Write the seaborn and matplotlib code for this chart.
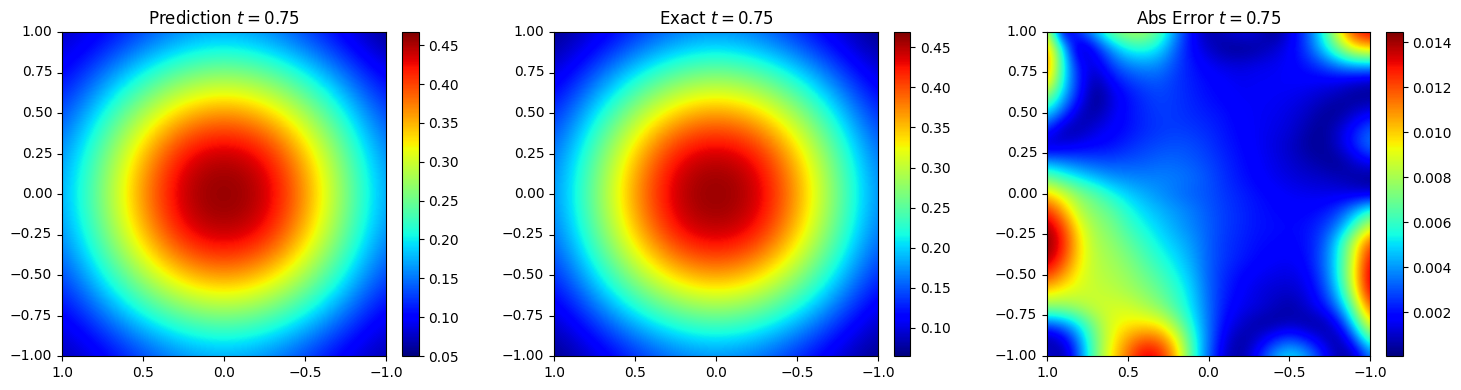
#!/usr/bin/python3

import numpy as np
import matplotlib
matplotlib.use("Agg")
import matplotlib.pyplot as plt
import seaborn as sns

# rows run from y = 1 down to y = -1, columns from x = 1 across to x = -1
prediction = [
    [.072, .092, .125, .154, .165, .154, .124, .088, .050],
    [.094, .146, .203, .246, .263, .246, .202, .144, .090],
    [.127, .204, .284, .348, .372, .348, .284, .202, .125],
    [.155, .247, .348, .430, .452, .430, .348, .246, .153],
    [.166, .264, .372, .452, .467, .452, .372, .263, .164],
    [.155, .247, .348, .430, .452, .430, .348, .246, .153],
    [.126, .203, .284, .348, .372, .348, .284, .202, .125],
    [.092, .145, .203, .246, .263, .246, .202, .144, .090],
    [.066, .090, .125, .154, .165, .154, .124, .088, .064],
]
exact = [
    [.065, .093, .126, .155, .166, .155, .126, .093, .065],
    [.093, .146, .204, .247, .264, .247, .204, .146, .093],
    [.126, .204, .285, .349, .373, .349, .285, .204, .126],
    [.155, .247, .349, .431, .453, .431, .349, .247, .155],
    [.166, .264, .373, .453, .469, .453, .373, .264, .166],
    [.155, .247, .349, .431, .453, .431, .349, .247, .155],
    [.126, .204, .285, .349, .373, .349, .285, .204, .126],
    [.093, .146, .204, .247, .264, .247, .204, .146, .093],
    [.065, .093, .126, .155, .166, .155, .126, .093, .065],
]
# in units of 1e-3
abs_error = [
    [9.0, 0.7, 2.8, 4.6, 7.0, 8.0, 8.0, 6.5, 3.8, 1.8, 0.5, 1.0, 1.4, 1.2, 0.2, 1.2, 2.8, 5.2, 9.0, 12.5, 13.5],
    [11.0, 5.0, 0.4, 2.0, 4.0, 5.5, 5.8, 5.0, 3.2, 1.8, 1.0, 0.4, 0.3, 0.5, 1.0, 1.6, 2.6, 4.6, 7.0, 9.5, 10.0],
    [11.5, 5.5, 1.8, 1.2, 2.8, 3.7, 4.0, 3.8, 2.8, 2.1, 1.6, 1.3, 1.2, 1.4, 1.5, 1.7, 2.1, 2.8, 3.8, 4.5, 4.6],
    [10.5, 5.3, 2.2, 0.5, 1.8, 2.6, 3.0, 3.1, 2.6, 2.2, 1.9, 1.7, 1.5, 1.6, 1.6, 1.7, 1.7, 1.6, 1.5, 1.2, 0.9],
    [7.5, 4.5, 2.0, 0.05, 1.2, 2.0, 2.5, 2.8, 2.6, 2.3, 2.0, 1.8, 1.6, 1.6, 1.6, 1.5, 1.3, 1.0, 0.7, 0.3, 0.3],
    [5.0, 3.0, 0.8, 0.5, 1.4, 2.0, 2.4, 2.7, 2.6, 2.4, 2.2, 2.0, 1.7, 1.6, 1.5, 1.3, 1.0, 0.5, 0.3, 1.0, 1.6],
    [2.5, 0.6, 0.6, 1.3, 1.7, 2.0, 2.4, 2.6, 2.7, 2.6, 2.4, 2.1, 1.8, 1.6, 1.4, 1.2, 0.7, 0.3, 1.0, 2.1, 3.2],
    [0.8, 1.2, 1.6, 1.8, 2.0, 2.4, 2.7, 2.9, 3.0, 2.9, 2.6, 2.2, 1.9, 1.6, 1.3, 1.0, 0.5, 0.3, 1.0, 2.3, 3.6],
    [4.0, 3.6, 3.2, 3.0, 2.9, 3.0, 3.1, 3.3, 3.3, 3.1, 2.8, 2.4, 2.0, 1.7, 1.4, 1.1, 0.8, 0.5, 0.3, 1.0, 1.8],
    [7.0, 6.0, 5.2, 4.5, 4.0, 3.8, 3.7, 3.7, 3.6, 3.4, 3.0, 2.5, 2.1, 1.8, 1.5, 1.3, 1.1, 1.0, 0.8, 0.5, 0.2],
    [10.0, 8.8, 7.4, 6.6, 5.5, 4.8, 4.3, 3.9, 3.5, 3.2, 3.0, 2.6, 2.3, 2.0, 1.8, 1.6, 1.5, 1.4, 1.4, 1.3, 1.2],
    [12.5, 10.5, 8.2, 7.3, 6.7, 5.6, 4.9, 4.4, 4.0, 3.6, 3.1, 2.7, 2.4, 2.1, 1.9, 1.8, 1.8, 2.0, 2.6, 4.0, 5.8],
    [14.0, 12.2, 9.2, 7.8, 7.2, 6.2, 5.4, 4.8, 4.2, 3.7, 3.2, 2.7, 2.4, 2.1, 2.0, 1.9, 2.0, 2.5, 3.6, 6.0, 8.8],
    [14.45, 12.8, 9.7, 8.1, 7.6, 6.8, 6.0, 5.2, 4.6, 4.0, 3.2, 2.6, 2.3, 2.0, 1.9, 1.8, 2.0, 2.8, 5.0, 8.5, 12.0],
    [14.0, 12.2, 9.6, 8.3, 7.9, 7.3, 6.5, 5.7, 5.0, 4.2, 3.2, 2.6, 2.2, 1.9, 1.7, 1.6, 1.9, 3.0, 5.2, 9.0, 13.2],
    [12.3, 10.8, 9.2, 8.4, 8.1, 7.7, 7.0, 6.3, 5.4, 4.5, 3.2, 2.4, 1.9, 1.6, 1.4, 1.3, 1.6, 2.8, 5.2, 9.3, 13.8],
    [9.8, 9.2, 8.8, 8.6, 8.4, 8.0, 7.5, 6.8, 5.9, 4.8, 3.3, 2.3, 1.7, 1.3, 1.1, 1.0, 1.3, 2.4, 4.6, 8.7, 13.5],
    [7.5, 7.5, 8.0, 8.6, 8.8, 8.8, 8.2, 7.5, 6.3, 5.0, 3.4, 2.1, 1.5, 1.3, 0.9, 0.5, 1.0, 1.8, 3.4, 7.0, 11.8],
    [3.2, 3.8, 5.3, 7.5, 9.0, 9.5, 9.6, 9.3, 7.6, 5.4, 3.5, 1.8, 1.1, 0.5, 0.4, 0.8, 0.5, 0.4, 1.6, 5.0, 9.5],
    [0.3, 1.2, 3.8, 7.0, 9.2, 10.8, 11.8, 11.5, 9.4, 6.0, 3.5, 1.4, 0.4, 1.0, 2.3, 3.0, 2.3, 1.2, 0.3, 2.6, 6.5],
    [1.3, 0.3, 3.2, 7.0, 9.6, 11.5, 13.5, 13.0, 10.4, 6.2, 3.3, 1.0, 0.4, 2.0, 4.0, 5.2, 4.4, 2.5, 0.6, 0.5, 3.5],
]

titles = [r"Prediction $t = 0.75$", r"Exact $t = 0.75$", r"Abs Error $t = 0.75$"]
x_ticks = [1.0, 0.5, 0.0, -0.5, -1.0]
x_labels = ["1.0", "0.5", "0.0", "\u22120.5", "\u22121.0"]
y_ticks = [1.0, 0.75, 0.5, 0.25, 0.0, -0.25, -0.5, -0.75, -1.0]
y_labels = ["1.00", "0.75", "0.50", "0.25", "0.00", "\u22120.25", "\u22120.50", "\u22120.75", "\u22121.00"]

W, H = 1461, 390
fig = plt.figure(figsize=(W / 100, H / 100), dpi=100)


def panel(grid, title, left, width, cbar_left):
    grid = np.array(grid)
    n = grid.shape[0]
    ax = fig.add_axes([left / W, 1 - 356 / H, width / W, 324 / H])
    cax = fig.add_axes([cbar_left / W, 1 - 356 / H, 16.5 / W, 324 / H])
    sns.heatmap(grid, ax=ax, cbar_ax=cax, cmap="jet", vmin=grid.min(), vmax=grid.max())

    # smooth the cells the way the original image was rendered
    mesh = ax.collections[0]
    ax.imshow(grid, cmap=mesh.cmap, norm=mesh.norm, interpolation="bicubic",
              extent=(0, n, n, 0), aspect="auto")
    mesh.set_visible(False)

    ax.set_xlim(0.5, n - 0.5)
    ax.set_ylim(n - 0.5, 0.5)
    ax.set_xticks([(1 - v) / 2 * (n - 1) + 0.5 for v in x_ticks], x_labels, rotation=0)
    ax.set_yticks([(1 - v) / 2 * (n - 1) + 0.5 for v in y_ticks], y_labels, rotation=0)
    ax.set_title(title, fontsize=12)
    for s in ax.spines.values():
        s.set_visible(True)
        s.set_linewidth(0.8)
    mesh.colorbar.outline.set_linewidth(0.8)


panel(prediction, titles[0], 62, 324, 402)
panel(exact, titles[1], 554, 324, 894)
panel(np.array(abs_error) / 1000, titles[2], 1047, 323, 1386)

fig.savefig("out.png", dpi=100)
